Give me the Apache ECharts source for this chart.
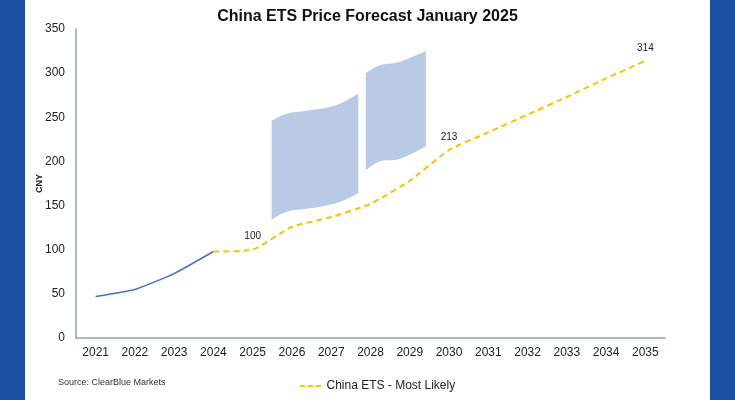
<!DOCTYPE html>
<html>
<head>
<meta charset="utf-8">
<script src="https://cdn.jsdelivr.net/npm/echarts@6/dist/echarts.min.js"></script>
<style>
  html, body { margin: 0; padding: 0; background: #1b4fa0; }
  #chart { position: absolute; left: 25px; top: 0; width: 685px; height: 400px; background: #fff; }
</style>
</head>
<body>
<div id="chart"></div>
<script>
'use strict';

// categories / tick labels
var years = ['2021', '2022', '2023', '2024', '2025', '2026', '2027', '2028',
             '2029', '2030', '2031', '2032', '2033', '2034', '2035'];

// historical prices (solid blue)
var historical = [47, 55, 73, 98, '-', '-', '-', '-', '-', '-', '-', '-', '-', '-', '-'];

// China ETS - Most Likely (dashed yellow)
var mostLikely = ['-', '-', '-', 98, 100, 126, 137, 152, 178, 213, 233, 253, 273, 294, 314];

// years that carry a value label
var labelledYears = ['2025', '2030', '2035'];

// range ribbons: x in years, low / high in CNY
var band1X = [2025.48, 2025.87, 2026.46, 2027.14, 2027.69];
var band1Low = [134, 143, 147, 153, 164];
var band1High = [246, 254, 258, 264, 277];

var band2X = [2027.88, 2028.24, 2028.75, 2029.41];
var band2Low = [190, 200, 203, 217];
var band2High = [300, 309, 313, 325];

var bands = [
  { x: band1X, low: band1Low, high: band1High },
  { x: band2X, low: band2Low, high: band2High }
];

var bandColor = '#b9cae4';
var axisColor = '#8c9fbf';

// catmull-rom through pixel points -> bezier path commands
function curveTo(pts, t) {
  var d = '';
  for (var i = 0; i < pts.length - 1; i++) {
    var p0 = pts[i - 1] || pts[i];
    var p1 = pts[i];
    var p2 = pts[i + 1];
    var p3 = pts[i + 2] || p2;
    var c1 = [p1[0] + (p2[0] - p0[0]) * t, p1[1] + (p2[1] - p0[1]) * t];
    var c2 = [p2[0] - (p3[0] - p1[0]) * t, p2[1] - (p3[1] - p1[1]) * t];
    d += ' C' + c1[0] + ',' + c1[1] + ' ' + c2[0] + ',' + c2[1] + ' ' + p2[0] + ',' + p2[1];
  }
  return d;
}

function renderBand(params, api) {
  var b = bands[api.value(2)];
  var top = b.x.map(function (x, i) { return api.coord([x, b.high[i]]); });
  var bottom = b.x.map(function (x, i) { return api.coord([x, b.low[i]]); }).reverse();
  var d = 'M' + top[0][0] + ',' + top[0][1] + curveTo(top, 0.2) +
          ' L' + bottom[0][0] + ',' + bottom[0][1] + curveTo(bottom, 0.2) + ' Z';
  return {
    type: 'path',
    shape: { pathData: d },
    style: { fill: bandColor }
  };
}

var chart = echarts.init(document.getElementById('chart'));

var option = {
  animation: false,
  textStyle: { fontFamily: 'Liberation Sans, Arial, sans-serif' },
  title: {
    text: 'China ETS Price Forecast January 2025',
    left: 'center',
    top: 4,
    textStyle: { fontSize: 16, fontWeight: 'bold', color: '#111' }
  },
  grid: { left: 51, right: 45, top: 29, bottom: 62, outerBoundsMode: 'none', containLabel: false },
  legend: {
    data: [{
      name: 'China ETS - Most Likely',
      icon: 'path://M0,0h5v2h-5z M8,0h5v2h-5z M16,0h5v2h-5z'
    }],
    left: 270,
    bottom: 3,
    itemWidth: 22,
    itemHeight: 2,
    itemGap: 4,
    textStyle: { fontSize: 12, color: '#222' }
  },
  graphic: [{
    type: 'text',
    left: 33,
    top: 378,
    style: { text: 'Source: ClearBlue Markets', fontSize: 9, fill: '#333',
             fontFamily: 'Liberation Sans, Arial, sans-serif' }
  }],
  xAxis: [{
    type: 'category',
    data: years,
    boundaryGap: true,
    axisLine: { lineStyle: { color: axisColor, width: 1.5 } },
    axisTick: { show: false },
    axisLabel: { fontSize: 12, color: '#222', margin: 9 }
  }, {
    type: 'value',
    min: 2020.5,
    max: 2035.5,
    show: false
  }],
  yAxis: {
    type: 'value',
    min: 0,
    max: 350,
    interval: 50,
    name: 'CNY',
    nameLocation: 'middle',
    nameGap: 32,
    nameRotate: 90,
    nameMoveOverlap: false,
    nameTextStyle: { fontSize: 9, fontWeight: 'bold', color: '#222' },
    axisLine: { show: true, lineStyle: { color: axisColor, width: 1.5 } },
    axisTick: { show: false },
    splitLine: { show: false },
    axisLabel: { fontSize: 12, color: '#222', margin: 11 }
  },
  series: [
    {
      name: 'Range',
      type: 'custom',
      xAxisIndex: 1,
      silent: true,
      renderItem: renderBand,
      data: bands.map(function (b, i) { return [b.x[0], b.low[0], i]; }),
      z: 1
    }, {
      name: 'Historical',
      type: 'line',
      data: historical,
      smooth: 0.15,
      symbol: 'none',
      lineStyle: { color: '#4472c4', width: 1.5 },
      itemStyle: { color: '#4472c4' },
      z: 3
    }, {
      name: 'China ETS - Most Likely',
      type: 'line',
      data: mostLikely,
      smooth: 0.15,
      symbol: 'circle',
      symbolSize: 0,
      showSymbol: true,
      lineStyle: { color: '#ffc000', width: 2, type: [6, 4] },
      itemStyle: { color: '#ffc000' },
      label: {
        show: true,
        position: 'top',
        distance: 8,
        fontSize: 10,
        color: '#222',
        formatter: function (p) {
          return labelledYears.indexOf(p.name) >= 0 ? String(p.value) : '';
        }
      },
      z: 3
    }
  ]
};

chart.setOption(option);
</script>
</body>
</html>
